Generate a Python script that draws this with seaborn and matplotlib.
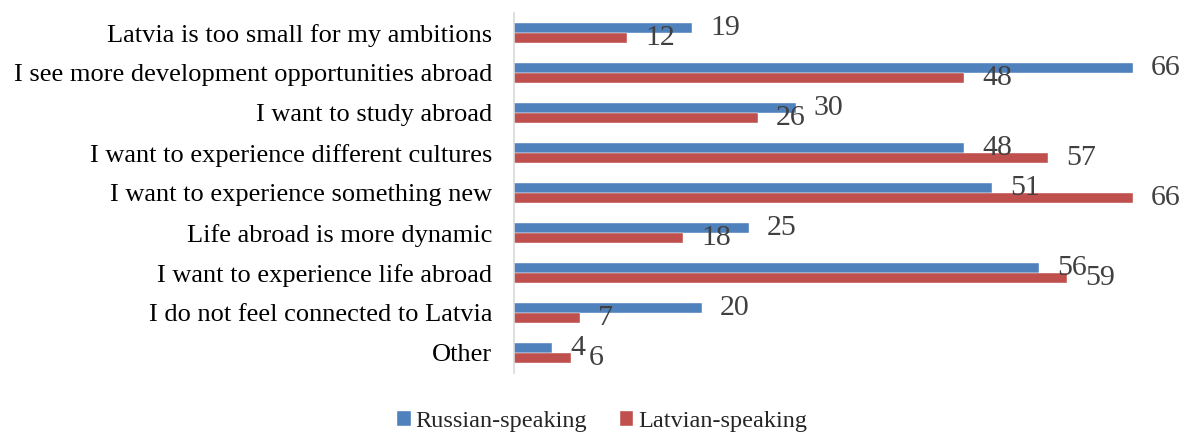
import pandas as pd
import seaborn as sns
import matplotlib.pyplot as plt
from matplotlib.patches import Patch

# Reasons for wanting to move abroad, % of respondents
categories = [
    "Latvia is too small for my ambitions",
    "I see more development opportunities abroad",
    "I want to study abroad",
    "I want to experience different cultures",
    "I want to experience something new",
    "Life abroad is more dynamic",
    "I want to experience life abroad",
    "I do not feel connected to Latvia",
    "Other",
]
russian = [19, 66, 30, 48, 51, 25, 56, 20, 4]
latvian = [12, 48, 26, 57, 66, 18, 59, 7, 6]
groups = ["Russian-speaking", "Latvian-speaking"]
colors = ["#4F81BD", "#C0504D"]

df = pd.DataFrame({
    "reason": categories * 2,
    "value": russian + latvian,
    "group": [groups[0]] * len(categories) + [groups[1]] * len(categories),
})

sns.set_style("white")
plt.rcParams["font.family"] = ["Liberation Serif", "DejaVu Serif"]

fig = plt.figure(figsize=(11.8, 4.34), dpi=100)
ax = fig.add_axes([0.436, 0.141, 0.524, 0.829])

sns.barplot(data=df, y="reason", x="value", hue="group", hue_order=groups,
            order=categories, palette=colors, orient="h", width=0.5,
            saturation=1, edgecolor="white", linewidth=0.3, legend=False, ax=ax)

# value labels at the bar ends
for cont in ax.containers:
    ax.bar_label(cont, labels=[f"{v:g}" for v in cont.datavalues], padding=13,
                 fontsize=21.5, color="#404040", clip_on=False)

ax.set_xlim(0, 66)
ax.set_ylim(8.5, -0.5)
ax.set_xlabel("")
ax.set_ylabel("")
ax.set_xticks([])
ax.tick_params(axis="y", length=0, pad=16, labelsize=19, labelcolor="black")
for side in ["top", "right", "bottom"]:
    ax.spines[side].set_visible(False)
ax.spines["left"].set_color("#D9D9D9")
ax.spines["left"].set_linewidth(1.2)

handles = [Patch(facecolor=c, label=g) for c, g in zip(colors, groups)]
fig.legend(handles=handles, loc="center", bbox_to_anchor=(0.51, 0.03), ncol=2,
           frameon=False, fontsize=17.5, handlelength=0.6, handleheight=0.6,
           handletextpad=0.2, columnspacing=1.3, borderpad=0.1)

fig.savefig("out.png", dpi=100)
